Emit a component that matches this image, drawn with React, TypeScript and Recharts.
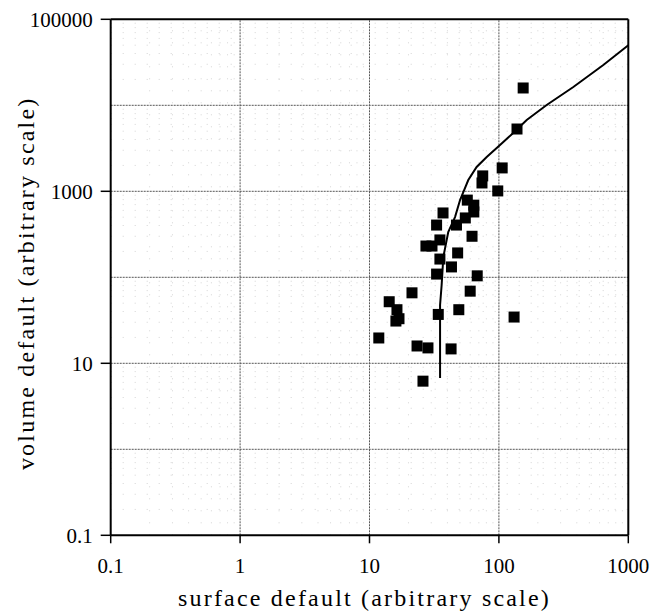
import React from "react";
import {
  ComposedChart,
  XAxis,
  YAxis,
  Scatter,
  Line,
  ReferenceLine,
  Label,
} from "recharts";

// ---- data ----
const surfaceDefault = [
  154, 138, 106, 75, 74, 98, 57, 64, 64, 55, 37, 33, 47, 35, 62, 27.3, 30.4, 48,
  35, 43, 33, 68, 21.3, 60, 14.2, 16.3, 16.9, 16, 34, 49, 131, 11.8, 23.3, 28.3,
  42.7, 25.9,
];
const volumeDefault = [
  15900, 5300, 1870, 1510, 1250, 1010, 790, 690, 575, 490, 560, 405, 405, 272,
  300, 231, 231, 192, 163, 132, 109, 104, 66, 69, 52, 42, 33, 31, 37, 42, 34.5,
  19.7, 15.9, 15.1, 14.7, 6.2,
];

const modelSurface = [
  35.1, 35.1, 35.1, 36.1, 37.2, 40.6, 45.8, 50.1, 53.1, 58, 67.3, 80.5, 102, 129,
  164, 234, 376, 641, 1000,
];
const modelVolume = [
  6.75, 24.4, 47.7, 81.4, 172, 336, 502, 792, 981, 1353, 1918, 2504, 3454, 4764,
  6745, 10080, 16330, 29420, 50000,
];

const xDecades = [0.1, 1, 10, 100, 1000];
const yDecades = [0.1, 1, 10, 100, 1000, 10000, 100000];
const yTickLabels = [0.1, 10, 1000, 100000];
const minorFactors = [2, 3, 4, 5, 6, 7, 8, 9];

const points = surfaceDefault.map((x, i) => ({ x, y: volumeDefault[i] }));
const curve = modelSurface.map((x, i) => ({ x, y: modelVolume[i] }));

const xMinor = xDecades.slice(0, -1).flatMap((d) => minorFactors.map((f) => +(d * f).toPrecision(3)));
const yMinor = yDecades.slice(0, -1).flatMap((d) => minorFactors.map((f) => +(d * f).toPrecision(3)));

const FONT = '"Liberation Serif", "Times New Roman", serif';

const SquareDot = (p: any) => (
  <rect x={p.cx - 5.5} y={p.cy - 5.5} width={11} height={11} fill="#000" />
);

export default function App() {
  return (
    <div style={{ fontFamily: FONT, position: "absolute", left: 0, top: 0 }}>
      <ComposedChart
        width={651}
        height={616}
        margin={{ top: 19.3, right: 22.7, left: 0, bottom: 0 }}
      >
        {xMinor.map((v) => (
          <ReferenceLine key={"xm" + v} x={v} stroke="#d4d4d4" strokeDasharray="1 11" />
        ))}
        {yMinor.map((v) => (
          <ReferenceLine key={"ym" + v} y={v} stroke="#d4d4d4" strokeDasharray="1 11" />
        ))}
        {xDecades.slice(1, -1).map((v) => (
          <ReferenceLine key={"xM" + v} x={v} stroke="#555" strokeDasharray="2 1" />
        ))}
        {yDecades.slice(1, -1).map((v) => (
          <ReferenceLine key={"yM" + v} y={v} stroke="#555" strokeDasharray="2 1" />
        ))}
        <ReferenceLine x={1000} stroke="#000" strokeWidth={2} />
        <ReferenceLine y={100000} stroke="#000" strokeWidth={2} />
        <XAxis
          dataKey="x"
          type="number"
          scale="log"
          domain={[0.1, 1000]}
          allowDataOverflow
          ticks={xDecades}
          tickFormatter={(v) => String(v)}
          height={80.7}
          stroke="#000"
          axisLine={{ stroke: "#000", strokeWidth: 2 }}
          tickLine={{ stroke: "#000", strokeWidth: 1.5 }}
          tickSize={8}
          tickMargin={15}
          tick={{ fill: "#000", fontSize: 21, fontFamily: FONT }}
          interval={0}
        >
          <Label
            value="surface default (arbitrary scale)"
            position="insideBottom"
            offset={10}
            dx={-5}
            style={{ fontSize: 24, fontFamily: FONT, fill: "#000", letterSpacing: 2.2 }}
          />
        </XAxis>
        <YAxis
          dataKey="y"
          type="number"
          scale="log"
          domain={[0.1, 100000]}
          allowDataOverflow
          ticks={yTickLabels}
          tickFormatter={(v) => String(v)}
          width={110.7}
          stroke="#000"
          axisLine={{ stroke: "#000", strokeWidth: 2 }}
          tickLine={{ stroke: "#000", strokeWidth: 1.5 }}
          tickSize={10}
          tickMargin={8}
          tick={{ fill: "#000", fontSize: 21, fontFamily: FONT }}
          interval={0}
        >
          <Label
            value="volume default (arbitrary scale)"
            position="center"
            angle={-90}
            dx={-30}
            dy={6}
            style={{ fontSize: 24, fontFamily: FONT, fill: "#000", letterSpacing: 2.2 }}
          />
        </YAxis>
        <Line
          data={curve}
          dataKey="y"
          type="linear"
          stroke="#000"
          strokeWidth={2}
          dot={false}
          activeDot={false}
          isAnimationActive={false}
        />
        <Scatter
          data={points}
          dataKey="y"
          shape={SquareDot}
          isAnimationActive={false}
        />
      </ComposedChart>
    </div>
  );
}
